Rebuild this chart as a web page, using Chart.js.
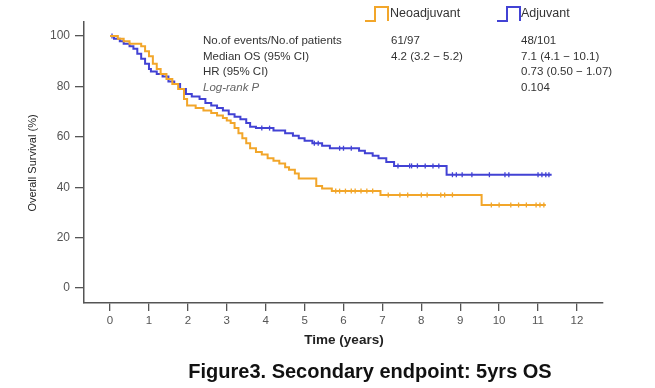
<!DOCTYPE html>
<html>
<head>
<meta charset="utf-8">
<script src="https://cdn.jsdelivr.net/npm/chart.js@4/dist/chart.umd.min.js"></script>
<style>
  html,body{margin:0;padding:0;background:#fff;}
  #wrap{width:655px;height:388px;position:relative;}
</style>
</head>
<body>
<div id="wrap"><canvas id="c" width="655" height="388"></canvas></div>
<script>
// ---- Data ----
const xTicks = [0,1,2,3,4,5,6,7,8,9,10,11,12];
const yTicks = [0,20,40,60,80,100];

const seriesNames = ["Neoadjuvant", "Adjuvant"];

// Neoadjuvant (orange) Kaplan-Meier step vertices
const neoTimes = [0,0.2,0.35,0.5,0.8,0.9,1.0,1.1,1.2,1.3,1.45,1.6,1.75,1.9,1.98,2.2,2.4,2.6,2.75,2.9,3.0,3.1,3.2,3.3,3.4,3.5,3.6,3.75,3.9,4.05,4.2,4.35,4.5,4.6,4.75,4.85,5.3,5.45,5.7,6.95,9.55,11.2];
const neoSurv  = [100,99,98,97,96,94,92,89,87,85,83,81,79,75,72.5,71.5,70.5,69.5,68.5,67.5,66.5,65.5,63.5,61.5,59.5,57.5,55.5,54,53,51.5,50.5,49.5,48,47,45.5,43.5,40.5,39.5,38.5,37,33,33];
const neoCensor = [5.8,5.9,6.05,6.2,6.3,6.45,6.6,6.75,7.15,7.45,7.65,8.0,8.15,8.5,8.6,8.8,9.8,10.0,10.3,10.5,10.7,10.95,11.05,11.15];

// Adjuvant (blue) Kaplan-Meier step vertices
const adjTimes = [0,0.1,0.25,0.35,0.5,0.6,0.7,0.8,0.9,1.0,1.05,1.2,1.35,1.5,1.65,1.8,1.95,2.1,2.3,2.45,2.6,2.75,2.9,3.05,3.2,3.35,3.5,3.6,3.75,4.2,4.5,4.7,4.85,5.0,5.2,5.45,5.65,6.4,6.55,6.75,6.9,7.1,7.3,8.65,11.35];
const adjSurv  = [100,99,98,97,96,95,93,91,89,87,86,85,84,82,81,79,77,76,75,73.5,72.5,71.5,70.5,69,68,67,65.5,64,63.5,62.5,61.5,60.5,59.5,58.5,57.5,56.5,55.5,54.5,53.5,52.5,51.5,50,48.5,45,45];
const adjCensor = [0.05,3.9,4.1,5.25,5.35,5.9,6.0,6.2,7.4,7.7,7.75,7.9,8.1,8.3,8.45,8.8,8.9,9.05,9.3,9.75,10.15,10.25,11.0,11.1,11.2,11.28];

// Summary table text
const tableLabels = ["No.of events/No.of patients", "Median OS (95% CI)", "HR (95% CI)", "Log-rank P"];
const neoStats = ["61/97", "4.2 (3.2 \u2212 5.2)", "", ""];
const adjStats = ["48/101", "7.1 (4.1 \u2212 10.1)", "0.73 (0.50 \u2212 1.07)", "0.104"];

const caption = "Figure3. Secondary endpoint: 5yrs OS";
const xTitle = "Time (years)";
const yTitle = "Overall Survival (%)";

// ---- Styles ----
const ORANGE = "#F2A62A";
const BLUE = "#4242D4";
const AXIS = "#555555";
const FONT = "'Liberation Sans', Arial, sans-serif";

function toPoints(ts, ss){ return ts.map((t,i)=>({x:t,y:ss[i]})); }
function survAt(ts, ss, t){
  let v = ss[0];
  for (let i=0;i<ts.length;i++){ if (ts[i] <= t) v = ss[i]; }
  return v;
}
function censorPoints(cs, ts, ss){ return cs.map(t=>({x:t,y:survAt(ts,ss,t)})); }

const textPlugin = {
  id: 'texts',
  afterDraw(chart){
    const ctx = chart.ctx;
    ctx.save();
    // legend icons
    function icon(x, y, color){
      ctx.strokeStyle = color; ctx.lineWidth = 2;
      ctx.beginPath();
      ctx.moveTo(x, y+7); ctx.lineTo(x+10, y+7); ctx.lineTo(x+10, y-7);
      ctx.lineTo(x+23, y-7); ctx.lineTo(x+23, y+7);
      ctx.stroke();
    }
    icon(365, 14, ORANGE);
    icon(497, 14, BLUE);
    ctx.fillStyle = "#333";
    ctx.font = "12.5px " + FONT;
    ctx.textBaseline = "middle";
    ctx.textAlign = "left";
    ctx.fillText(seriesNames[0], 390, 14);
    ctx.fillText(seriesNames[1], 521, 14);

    // table
    const rows = [41, 56.5, 72, 87.5];
    tableLabels.forEach((lab,i)=>{
      if (i === 3){ ctx.font = "italic 11.5px " + FONT; ctx.fillStyle = "#666"; }
      else { ctx.font = "11.5px " + FONT; ctx.fillStyle = "#333"; }
      ctx.fillText(lab, 203, rows[i]);
      ctx.font = "11.5px " + FONT; ctx.fillStyle = "#333";
      if (neoStats[i]) ctx.fillText(neoStats[i], 391, rows[i]);
      if (adjStats[i]) ctx.fillText(adjStats[i], 521, rows[i]);
    });

    // axis titles
    ctx.fillStyle = "#222";
    ctx.font = "bold 13.5px " + FONT;
    ctx.textAlign = "center";
    ctx.fillText(xTitle, 344, 340);
    ctx.save();
    ctx.translate(33, 163);
    ctx.rotate(-Math.PI/2);
    ctx.font = "11px " + FONT;
    ctx.fillText(yTitle, 0, 0);
    ctx.restore();

    // caption
    ctx.fillStyle = "#111";
    ctx.font = "bold 20px " + FONT;
    ctx.textAlign = "center";
    ctx.fillText(caption, 370, 372);
    ctx.restore();
  }
};

new Chart(document.getElementById('c'), {
  type: 'line',
  data: {
    datasets: [
      { label: seriesNames[0], data: toPoints(neoTimes, neoSurv), borderColor: ORANGE, borderWidth: 2, stepped: true, pointRadius: 0, fill: false },
      { label: seriesNames[1], data: toPoints(adjTimes, adjSurv), borderColor: BLUE, borderWidth: 2, stepped: true, pointRadius: 0, fill: false },
      { label: seriesNames[0] + ' censored', data: censorPoints(neoCensor, neoTimes, neoSurv), showLine: false, pointStyle: 'line', rotation: 90, pointRadius: 2.5, borderColor: ORANGE, borderWidth: 1.3 },
      { label: seriesNames[1] + ' censored', data: censorPoints(adjCensor, adjTimes, adjSurv), showLine: false, pointStyle: 'line', rotation: 90, pointRadius: 2.5, borderColor: BLUE, borderWidth: 1.3 }
    ]
  },
  options: {
    responsive: false,
    animation: false,
    layout: { padding: { top: 22, right: 52, left: 0, bottom: 0 } },
    plugins: { legend: { display: false }, tooltip: { enabled: false }, title: { display: false } },
    scales: {
      x: {
        type: 'linear', min: -0.67, max: 12.67,
        afterBuildTicks(s){ s.ticks = xTicks.map(v=>({value:v})); },
        afterFit(s){ s.height = 85; },
        grid: { display: true, drawOnChartArea: false, drawTicks: true, tickLength: 8, color: AXIS, lineWidth: 1.3 },
        border: { display: true, color: AXIS, width: 1.5 },
        ticks: { color: '#555', font: { family: FONT, size: 11.5 }, padding: 3, maxRotation: 0, autoSkip: false }
      },
      y: {
        type: 'linear', min: -5.9, max: 105.6,
        afterBuildTicks(s){ s.ticks = yTicks.map(v=>({value:v})); },
        afterFit(s){ s.width = 84; },
        grid: { display: true, drawOnChartArea: false, drawTicks: true, tickLength: 9, color: AXIS, lineWidth: 1.3 },
        border: { display: true, color: AXIS, width: 1.5 },
        ticks: { color: '#555', font: { family: FONT, size: 12 }, padding: 5 }
      }
    }
  },
  plugins: [textPlugin]
});
</script>
</body>
</html>
